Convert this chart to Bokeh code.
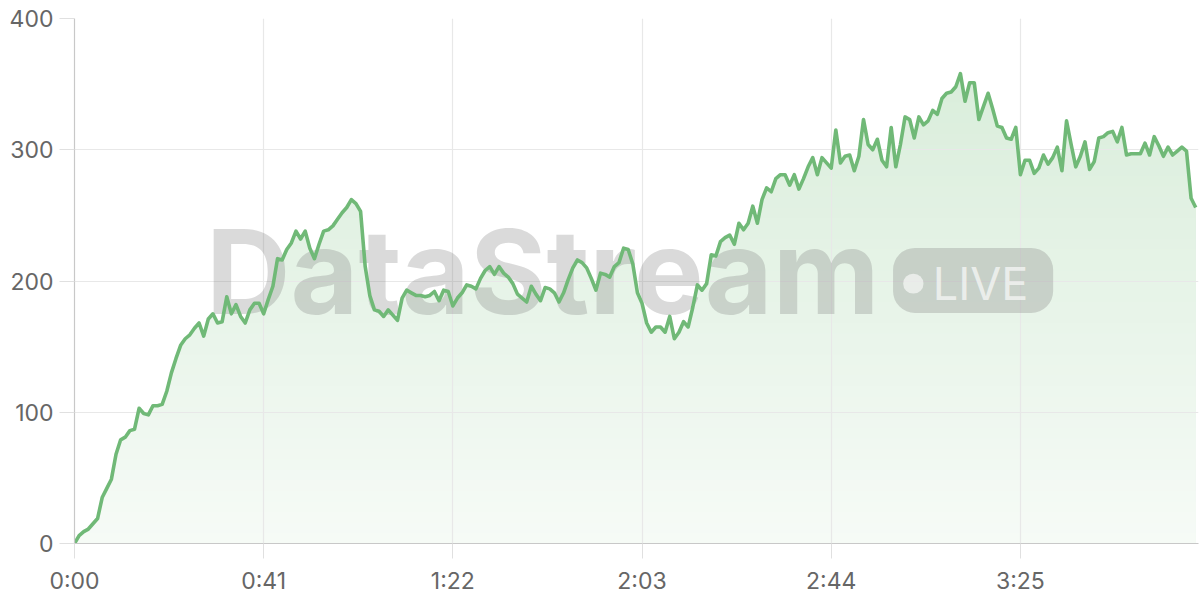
import numpy as np
from bokeh.plotting import figure
from bokeh.models import Label, BoxAnnotation, FixedTicker, Range1d
from bokeh.embed import file_html
from bokeh.resources import INLINE

# elapsed seconds (one sample per second)
seconds = list(range(244))

values = [
    0, 6, 9, 11, 15, 19, 35, 42, 49, 68,
    79, 81, 86, 87, 103, 99, 98, 105, 105, 106,
    116, 130, 141, 151, 156, 159, 164, 168, 158, 171,
    175, 168, 169, 188, 175, 182, 173, 168, 178, 183,
    183, 175, 186, 196, 217, 216, 224, 229, 238, 232,
    238, 225, 217, 228, 238, 239, 242, 247, 252, 256,
    262, 259, 253, 211, 189, 178, 177, 173, 178, 174,
    170, 187, 193, 191, 189, 189, 188, 189, 192, 185,
    193, 192, 181, 187, 191, 197, 196, 194, 202, 208,
    211, 205, 211, 206, 203, 198, 190, 187, 184, 196,
    190, 185, 195, 194, 191, 184, 191, 201, 210, 216,
    214, 210, 202, 193, 206, 205, 203, 211, 214, 225,
    224, 213, 191, 183, 168, 161, 165, 165, 161, 173,
    156, 161, 169, 165, 180, 197, 193, 198, 220, 219,
    230, 233, 235, 228, 244, 239, 244, 257, 244, 262,
    271, 268, 278, 281, 281, 273, 281, 270, 278, 287,
    294, 281, 294, 290, 286, 315, 290, 295, 296, 284,
    295, 323, 304, 300, 308, 292, 287, 317, 287, 304,
    325, 323, 309, 325, 319, 322, 330, 327, 339, 343,
    344, 348, 358, 337, 351, 351, 323, 333, 343, 331,
    318, 317, 309, 308, 317, 281, 292, 292, 282, 286,
    296, 289, 294, 302, 284, 322, 304, 287, 295, 306,
    285, 291, 309, 310, 313, 314, 306, 317, 296, 297,
    297, 297, 305, 296, 310, 303, 295, 302, 296, 299,
    302, 299, 263, 256,
]

x_ticks = [0, 41, 82, 123, 164, 205]
x_tick_labels = ["0:00", "0:41", "1:22", "2:03", "2:44", "3:25"]
y_ticks = [0, 100, 200, 300, 400]

LINE = "#70b977"
GREEN_RGB = (109, 187, 115)

p = figure(width=1200, height=600, output_backend="svg", toolbar_location=None,
           x_range=Range1d(0, 243.6), y_range=Range1d(0, 400),
           min_border_left=74, min_border_right=2, min_border_top=18,
           min_border_bottom=57)
p.outline_line_color = None
p.background_fill_color = "white"
p.border_fill_color = "white"

# vertical gradient fill under the line, built from stacked bands
vals = np.array(values, dtype=float)
n_bands = 50
edges = np.linspace(0, 400, n_bands + 1)
for i in range(n_bands, 0, -1):
    hi = edges[i]
    mid = (edges[i] + edges[i - 1]) / 2
    a = 0.06 + 0.22 * (mid / 400.0)
    col = "#%02x%02x%02x" % tuple(int(round(255 - a * (255 - c))) for c in GREEN_RGB)
    r = p.varea(x=seconds, y1=0, y2=np.minimum(vals, hi), fill_color=col)
    r.level = "image"

# axes
for ax in (p.xaxis[0], p.yaxis[0]):
    ax.axis_line_color = "#c8c8c8"
    ax.axis_line_width = 1.2
    ax.major_tick_line_color = "#e0e0e0"
    ax.major_tick_in = 0
    ax.major_tick_out = 15
    ax.minor_tick_line_color = None
    ax.major_label_text_font = "Inter"
    ax.major_label_text_font_size = "23px"
    ax.major_label_text_color = "#666666"

p.xaxis.ticker = FixedTicker(ticks=x_ticks)
p.xaxis.major_label_overrides = {t: l for t, l in zip(x_ticks, x_tick_labels)}
p.xaxis.major_label_standoff = 8
p.yaxis.ticker = FixedTicker(ticks=y_ticks)
p.yaxis.major_label_standoff = 6

p.xgrid.grid_line_color = "#e8e8e8"
p.ygrid.grid_line_color = "#e8e8e8"
p.xgrid.grid_line_width = 1.2
p.ygrid.grid_line_width = 1.2

# watermark
wm = Label(x=28.5, y=207, text="DataStream", text_font="Inter",
           text_font_style="bold", text_font_size="117px", text_color="#808080",
           text_alpha=0.29, text_baseline="alphabetic", text_align="left",
           level="underlay")
p.add_layout(wm)
pill = BoxAnnotation(left=177.4, right=212.1, bottom=175.6, top=225.2,
                     fill_color="#808080", fill_alpha=0.3, line_color=None,
                     border_radius=22, level="underlay")
p.add_layout(pill)
dot = BoxAnnotation(left=179.6, right=184.0, bottom=190.4, top=205.6,
                    fill_color="white", fill_alpha=0.6, line_color=None,
                    border_radius=10, level="underlay")
p.add_layout(dot)
live = Label(x=186.0, y=198, text="LIVE", text_font="Inter",
             text_font_style="normal", text_font_size="45px", text_color="white",
             text_alpha=0.65, text_baseline="alphabetic", text_align="left",
             level="underlay")
p.add_layout(live)

# the series line
p.line(seconds, values, line_color=LINE, line_width=3.6, line_join="round")

open("out.html", "w").write(file_html(p, INLINE))
